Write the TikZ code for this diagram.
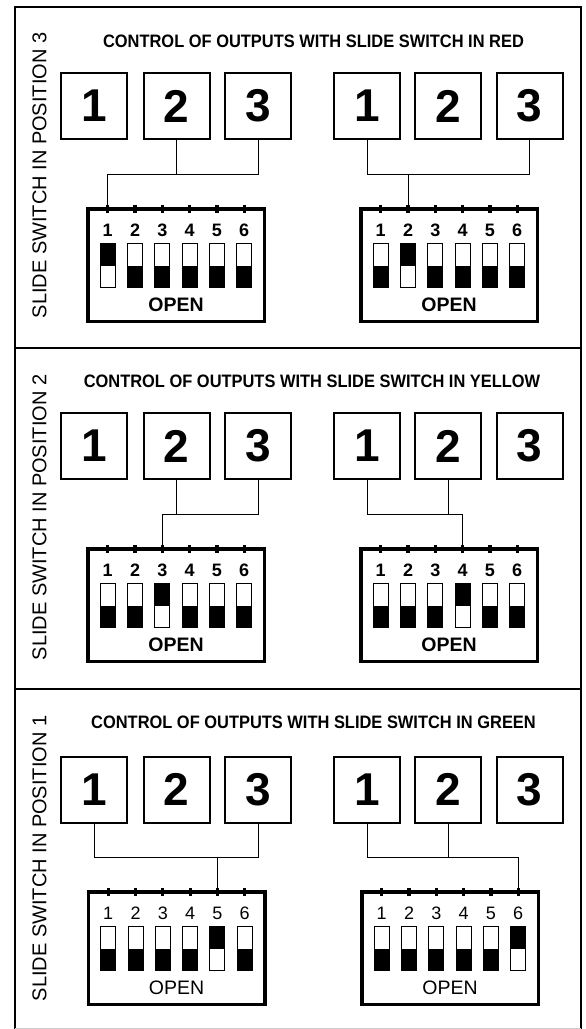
\documentclass[tikz,border=0pt]{standalone}
\usepackage{fontspec}
\usepackage{graphicx}
\setmainfont{Liberation Sans}
\tikzset{
  frameline/.style={line width=2pt},
  outbox/.style={draw, line width=2pt, minimum size=66pt, inner sep=0pt,
    font=\fontsize{46}{46}\selectfont\bfseries},
  dipframe/.style={draw, line width=3.5pt},
  swbox/.style={draw, line width=1pt},
  conn/.style={line width=1pt},
  paneltitle/.style={inner sep=0pt, font=\fontsize{18}{18}\selectfont\bfseries},
  sidelabel/.style={inner sep=0pt, rotate=90, font=\fontsize{20}{20}\selectfont},
}
% #1 prefix, #2 centre y
\newcommand\outrow[2]{%
  \node[outbox] (#1a1) at (94,#2) {1};
  \node[outbox] (#1a2) at (176.5,#2) {2};
  \node[outbox] (#1a3) at (258,#2) {3};
  \node[outbox] (#1b1) at (367,#2) {1};
  \node[outbox] (#1b2) at (448,#2) {2};
  \node[outbox] (#1b3) at (529.5,#2) {3};
}
% #1 prefix, #2 centre x, #3 top y, #4 switch that is on, #5 font series
\newcommand\dipsw[5]{%
  \draw[dipframe] (#2-88.25,#3+1.75) rectangle (#2+88.25,#3+114.25);
  \node[inner sep=0pt, font=\fontsize{19.5}{19.5}\selectfont#5] (#1open) at (#2,#3+98) {OPEN};
  \foreach \i in {1,...,6}{%
    \pgfmathsetmacro\tx{#2+(\i-3.5)*27.3}%
    \coordinate (#1t\i) at (\tx,#3);
    \fill (\tx-1.6,#3-2.5) rectangle (\tx+1.6,#3+6);
    \node[inner sep=0pt, font=\fontsize{18}{18}\selectfont#5] (#1n\i) at (\tx,#3+23.5) {\i};
    \ifnum\i=#4
      \fill (\tx-7.5,#3+36.5) rectangle (\tx+7.5,#3+59);
    \else
      \fill (\tx-7.5,#3+59) rectangle (\tx+7.5,#3+80.5);
    \fi
    \draw[swbox] (\tx-7.5,#3+36.5) rectangle (\tx+7.5,#3+80.5);
  }%
}
\begin{document}
\begin{tikzpicture}[x=1pt,y=-1pt]
\useasboundingbox (0,0) rectangle (586,1029);
% frame
\draw[frameline] (15.3,1029) -- (15.3,7) -- (581,7) -- (581,1029);
\draw[black!20, line width=1pt] (15.3,1028.3) -- (581,1028.3);
\draw[frameline] (15.3,348) -- (581,348);
\draw[frameline] (15.3,689) -- (581,689);

% ---------- panel 3 (top) ----------
\node[sidelabel] (s3) at (39.5,175.5) {SLIDE SWITCH IN POSITION 3};
\node[paneltitle] (h3) at (313.5,41.5) {\scalebox{0.913}[1]{CONTROL OF OUTPUTS WITH SLIDE SWITCH IN RED}};
\outrow{p}{106}
\dipsw{pl}{176}{207}{1}{\bfseries}
\dipsw{pr}{449}{207}{2}{\bfseries}
\coordinate (pj) at (0,174);
\draw[conn] (pa3.south) |- (plt1|-pj) -- (plt1);
\draw[conn] (pa2.south) -- (pa2.south|-pj);
\draw[conn] (pb1.south) |- (pb3.south|-pj) -- (pb3.south);
\draw[conn] (prt2) -- (prt2|-pj);

% ---------- panel 2 (middle) ----------
\node[sidelabel] (s2) at (39.5,517.5) {SLIDE SWITCH IN POSITION 2};
\node[paneltitle] (h2) at (312,381.5) {\scalebox{0.913}[1]{CONTROL OF OUTPUTS WITH SLIDE SWITCH IN YELLOW}};
\outrow{q}{446}
\dipsw{ql}{176}{547}{3}{\bfseries}
\dipsw{qr}{449}{547}{4}{\bfseries}
\coordinate (qj) at (0,514);
\draw[conn] (qa3.south) |- (qlt3|-qj) -- (qlt3);
\draw[conn] (qa2.south) -- (qa2.south|-qj);
\draw[conn] (qb1.south) |- (qrt4|-qj) -- (qrt4);
\draw[conn] (qb2.south) -- (qb2.south|-qj);

% ---------- panel 1 (bottom) ----------
\node[sidelabel] (s1) at (39.5,858.5) {SLIDE SWITCH IN POSITION 1};
\node[paneltitle] (h1) at (313.5,722.5) {\scalebox{0.913}[1]{CONTROL OF OUTPUTS WITH SLIDE SWITCH IN GREEN}};
\outrow{r}{789.5}
\dipsw{rl}{176.5}{890}{5}{\mdseries}
\dipsw{rr}{450}{890}{6}{\mdseries}
\coordinate (rj) at (0,857);
\draw[conn] (ra1.south) |- (ra3.south|-rj) -- (ra3.south);
\draw[conn] (rlt5) -- (rlt5|-rj);
\draw[conn] (rb1.south) |- (rrt6|-rj) -- (rrt6);
\draw[conn] (rb2.south) -- (rb2.south|-rj);
\end{tikzpicture}
\end{document}
